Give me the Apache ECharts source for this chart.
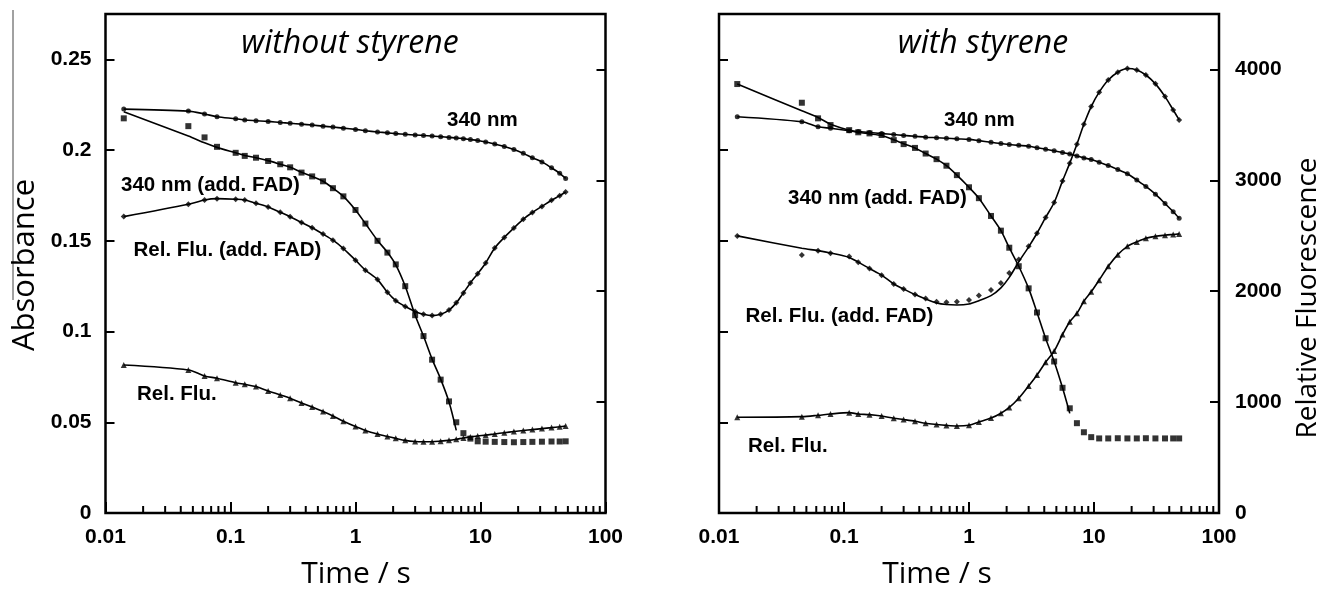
<!DOCTYPE html>
<html><head><meta charset="utf-8">
<script src="https://cdn.jsdelivr.net/npm/echarts@6/dist/echarts.min.js"></script>
<style>html,body{margin:0;padding:0;background:#fff}#c{width:1320px;height:592px}</style>
</head><body><div id="c"></div>
<script>
// ---- data ----
const TIMES = [0.014,0.046,0.062,0.078,0.11,0.13,0.16,0.2,0.25,0.3,0.37,0.45,0.55,0.66,0.8,1.0,1.2,1.5,1.8,2.1,2.5,3.0,3.5,4.1,4.8,5.6,6.4,7.3,8.3,9.5,11,13,15.5,18.5,22,26,31,37,43,48];

// without styrene (absorbance)
const L_A340 = [0.2226,0.2215,0.2199,0.2184,0.2173,0.2166,0.2162,0.2158,0.2152,0.2148,0.2143,0.2138,0.2132,0.2127,0.2121,0.2114,0.2107,0.2100,0.2095,0.2091,0.2087,0.2083,0.2080,0.2078,0.2074,0.2070,0.2067,0.2063,0.2058,0.2053,0.2045,0.2033,0.2020,0.2003,0.1982,0.1958,0.1935,0.1902,0.1872,0.1844];
const L_A340FAD = [0.2175,0.2132,0.2070,0.2018,0.1985,0.1968,0.1958,0.1940,0.1922,0.1905,0.1876,0.1855,0.1828,0.1790,0.1745,0.1670,0.1595,0.1500,0.1435,0.1370,0.1250,0.1090,0.0975,0.0845,0.0735,0.0615,0.0500,0.0440,0.0410,0.0395,0.0393,0.0392,0.0391,0.0390,0.0391,0.0392,0.0393,0.0394,0.0394,0.0395];
const L_A340FAD_FIT = [0.2211,0.2078,0.2040,0.2015,0.1985,0.1970,0.1958,0.1942,0.1922,0.1905,0.1878,0.1855,0.1828,0.1790,0.1745,0.1670,0.1595,0.1502,0.1437,0.1368,0.1250,0.1090,0.0975,0.0848,0.0738,0.0612,0.0455];
// without styrene (fluorescence)
const L_FLUFAD = [2673,2784,2823,2835,2830,2823,2793,2760,2712,2672,2620,2572,2515,2460,2385,2280,2190,2105,1990,1915,1862,1818,1792,1780,1793,1830,1895,1985,2075,2158,2255,2390,2485,2570,2650,2710,2765,2820,2862,2895];
const L_FLU = [1335,1290,1236,1215,1175,1160,1140,1100,1065,1035,993,955,915,875,828,780,745,712,690,673,655,645,643,643,648,655,665,677,686,695,702,713,724,735,744,752,761,770,778,785];

// with styrene (absorbance)
const R_A340 = [0.2184,0.2156,0.2129,0.2120,0.2107,0.2102,0.2097,0.2091,0.2086,0.2081,0.2076,0.2071,0.2068,0.2065,0.2062,0.2059,0.2052,0.2043,0.2036,0.2031,0.2026,0.2021,0.2013,0.2005,0.1996,0.1987,0.1978,0.1968,0.1957,0.1948,0.1933,0.1915,0.1893,0.1870,0.1835,0.1800,0.1757,0.1705,0.1660,0.1624];
const R_A340FAD = [0.2364,0.2261,0.2175,0.2138,0.2110,0.2098,0.2092,0.2083,0.2055,0.2033,0.2012,0.1981,0.1950,0.1914,0.1862,0.1795,0.1735,0.1637,0.1556,0.1462,0.1360,0.1238,0.1105,0.0963,0.0835,0.0690,0.0577,0.0495,0.0445,0.0418,0.0411,0.0411,0.0412,0.0411,0.0411,0.0412,0.0411,0.0411,0.0411,0.0411];
const R_A340FAD_FIT = [0.2364,0.2217,0.2180,0.2143,0.2110,0.2098,0.2090,0.2080,0.2057,0.2035,0.2012,0.1981,0.1950,0.1914,0.1862,0.1795,0.1735,0.1637,0.1556,0.1462,0.1360,0.1238,0.1105,0.0963,0.0835,0.0690,0.0549];
// with styrene (fluorescence)
const R_FLUFAD = [2499,2327,2366,2342,2312,2262,2205,2145,2065,2020,1970,1935,1905,1900,1906,1921,1962,2012,2075,2165,2285,2405,2523,2665,2800,2995,3155,3325,3505,3665,3795,3905,3975,4008,3995,3950,3870,3755,3635,3545];
const R_FLUFAD_FIT = [2499,2388,2366,2345,2305,2262,2205,2145,2065,2020,1970,1930,1895,1880,1876,1885,1915,1960,2030,2125,2265,2400,2523,2665,2800,2995,3155,3325,3505,3665,3795,3905,3975,4008,3995,3950,3870,3755,3635,3545];
const R_FLU = [863,869,881,893,905,893,887,874,855,843,828,809,798,790,785,792,820,856,900,952,1035,1146,1245,1360,1460,1610,1725,1801,1910,1995,2100,2225,2330,2405,2445,2478,2495,2505,2512,2517];

const X_TICK_LABELS = ['0.01','0.1','1','10','100'];
const MINOR_TICKS = [0.02,0.03,0.04,0.05,0.06,0.07,0.08,0.09,0.2,0.3,0.4,0.5,0.6,0.7,0.8,0.9,2,3,4,5,6,7,8,9,20,30,40,50,60,70,80,90];

// ---- build ----
const pairs = (vals) => vals.map((v, i) => [TIMES[i], v]);
const FONT = 'Liberation Sans';
const TITLE_FONT = '"Open Sans"';

const grids = [
  {left: 105.5, top: 14, width: 500, height: 499, show: true, borderColor: '#000', borderWidth: 2.5, backgroundColor: 'transparent'},
  {left: 719, top: 14, width: 500, height: 499, show: true, borderColor: '#000', borderWidth: 2.5, backgroundColor: 'transparent'}
];

function xAxis(gi) {
  return {
    type: 'log', logBase: 10, min: 0.01, max: 100, gridIndex: gi,
    axisLine: {show: false},
    axisTick: {show: true, inside: true, length: 11, lineStyle: {color: '#000', width: 2}},
    splitLine: {show: false},
    axisLabel: {
      margin: 14, color: '#000', fontFamily: FONT, fontWeight: 'bold', fontSize: 21,
      formatter: (v) => X_TICK_LABELS[Math.round(Math.log10(v)) + 2] || ''
    }
  };
}
function yAxis(gi, kind, side, labels) {
  const isAbs = kind === 'abs';
  return {
    type: 'value', gridIndex: gi, position: side,
    min: 0, max: isAbs ? 0.275 : 4500, interval: isAbs ? 0.05 : 1000,
    axisLine: {show: false},
    axisTick: {show: true, inside: true, length: 9, lineStyle: {color: '#000', width: 2}},
    splitLine: {show: false},
    axisLabel: {
      show: labels, showMaxLabel: false, margin: side === 'left' ? 14 : 16,
      color: '#000', fontFamily: FONT, fontWeight: 'bold', fontSize: 21,
      formatter: (v) => String(v)
    }
  };
}

function scatter(vals, xi, yi, symbol, size) {
  return {type: 'scatter', xAxisIndex: xi, yAxisIndex: yi, data: pairs(vals),
    symbol: symbol, symbolSize: size, itemStyle: {color: '#000'}, z: 3, silent: true};
}
function fit(vals, xi, yi) {
  return {type: 'line', xAxisIndex: xi, yAxisIndex: yi, data: pairs(vals),
    showSymbol: false, smooth: 0.3, lineStyle: {color: '#000', width: 1.6}, z: 2, silent: true};
}
function minorTicks(xi, yi) {
  return {type: 'custom', xAxisIndex: xi, yAxisIndex: yi, silent: true, clip: false,
    data: MINOR_TICKS.map(t => [t, 0]),
    renderItem: (params, api) => {
      const p = api.coord([api.value(0), 0]);
      return {type: 'line', shape: {x1: p[0], y1: p[1], x2: p[0], y2: p[1] - 7},
        style: {stroke: '#000', lineWidth: 2}};
    }};
}

const series = [
  // left panel: y0 = abs, y1 = fluorescence
  fit(L_A340, 0, 0), scatter(L_A340, 0, 0, 'circle', 5),
  fit(L_A340FAD_FIT, 0, 0), scatter(L_A340FAD, 0, 0, 'rect', 6),
  fit(L_FLUFAD, 0, 1), scatter(L_FLUFAD, 0, 1, 'diamond', 6),
  fit(L_FLU, 0, 1), scatter(L_FLU, 0, 1, 'triangle', 6),
  minorTicks(0, 0),
  // right panel: y2 = abs, y3 = fluorescence
  fit(R_A340, 1, 2), scatter(R_A340, 1, 2, 'circle', 5),
  fit(R_A340FAD_FIT, 1, 2), scatter(R_A340FAD, 1, 2, 'rect', 6),
  fit(R_FLUFAD_FIT, 1, 3), scatter(R_FLUFAD, 1, 3, 'diamond', 6),
  fit(R_FLU, 1, 3), scatter(R_FLU, 1, 3, 'triangle', 6),
  minorTicks(1, 2)
];

function label(text, x, y) {
  return {type: 'text', x: x, y: y, silent: true,
    style: {text: text, fill: '#000', font: 'bold 20.5px ' + FONT,
      textAlign: 'left', textVerticalAlign: 'middle'}};
}
function title(text, x, y, rot, italic, size) {
  return {type: 'text', x: x, y: y, rotation: rot || 0, silent: true,
    style: {text: text, fill: '#000', font: (italic ? 'italic ' : '') + (size || 30) + 'px ' + TITLE_FONT,
      textAlign: 'center', textVerticalAlign: 'middle'}};
}

const graphic = [
  {type: 'line', silent: true, shape: {x1: 13, y1: 10, x2: 13, y2: 300}, style: {stroke: '#444', lineWidth: 1}},
  title('without styrene', 350, 44, 0, true, 32),
  title('with styrene', 983, 44, 0, true, 32),
  title('Absorbance', 25, 265, Math.PI / 2, false, 31),
  title('Relative Fluorescence', 1308, 298, Math.PI / 2, false, 28),
  title('Time / s', 356, 574),
  title('Time / s', 937, 574),
  label('340 nm', 447, 120),
  label('340 nm (add. FAD)', 121, 185),
  label('Rel. Flu. (add. FAD)', 133.5, 250),
  label('Rel. Flu.', 137, 394),
  label('340 nm', 944, 120),
  label('340 nm (add. FAD)', 788, 198),
  label('Rel. Flu. (add. FAD)', 745.5, 316),
  label('Rel. Flu.', 748, 446)
];

const chart = echarts.init(document.getElementById('c'), null, {renderer: 'canvas'});
chart.setOption({
  animation: false,
  backgroundColor: '#fff',
  grid: grids,
  xAxis: [xAxis(0), xAxis(1)],
  yAxis: [yAxis(0, 'abs', 'left', true), yAxis(0, 'flu', 'right', false),
          yAxis(1, 'abs', 'left', false), yAxis(1, 'flu', 'right', true)],
  series: series,
  graphic: graphic
});
</script></body></html>
